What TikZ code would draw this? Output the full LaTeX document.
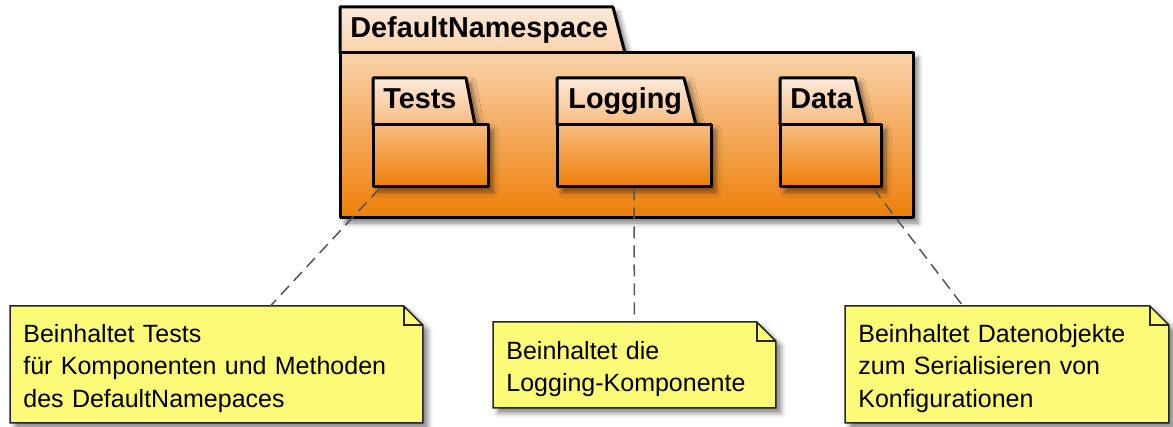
\documentclass[tikz,border=0pt]{standalone}
\usepackage{fontspec}
\setmainfont{Liberation Sans}
\usetikzlibrary{backgrounds,fit,shadows.blur}

\definecolor{pkglight}{RGB}{252,234,218}
\definecolor{pkgdark}{RGB}{238,126,6}
\definecolor{noteyellow}{RGB}{251,251,119}
\definecolor{linkgray}{RGB}{85,85,85}

\tikzset{
  pkgshadow/.style={blur shadow={shadow xshift=2.5pt, shadow yshift=-2.5pt, shadow blur radius=2.5pt, shadow opacity=50}},
  pkgtab/.style={draw, line width=1.5pt, pkgshadow},
  pkgbody/.style={draw, line width=1.5pt, pkgshadow, inner sep=0pt},
  pkgname/.style={font=\bfseries\fontsize{14.4}{17}\selectfont, anchor=base west, inner sep=0pt},
  notebox/.style={anchor=north west, align=left, inner xsep=6.5pt, font=\fontsize{12.5}{16.25}\selectfont},
  noteline/.style={draw=black!85, line width=0.75pt},
  link/.style={draw=linkgray, line width=0.75pt, dash pattern=on 6pt off 3.5pt}
}

% folded note outline behind a text node
\newcommand{\notefold}[1]{%
  \begin{scope}[on background layer]
    \path[fill=noteyellow, noteline, pkgshadow] (#1.north west) -- ([xshift=-9.5pt]#1.north east) -- ([yshift=-9.5pt]#1.north east) -- (#1.south east) -- (#1.south west) -- cycle;
    \draw[noteline] ([xshift=-9.5pt]#1.north east) |- ([yshift=-9.5pt]#1.north east);
  \end{scope}}
\newcommand{\notestrut}{\rule{0pt}{13pt}}

\begin{document}
\begin{tikzpicture}[x=0.5pt, y=-0.5pt, line join=round]
    \useasboundingbox (0,0) rectangle (1173,427);

    % DefaultNamespace
    \draw[pkgtab, top color=pkglight, bottom color=pkglight!78!pkgdark] (340,7) -- (613,7) -- (625,53) -- (340,53) -- cycle;
    \node[pkgbody, top color=pkglight!78!pkgdark, bottom color=pkgdark, fit={(340,53) (913,218)}] (nsbody) {};
    \node[pkgname] (nsname) at (350,38) {DefaultNamespace};

    % Tests
    \draw[pkgtab, top color=pkglight, bottom color=pkglight!57!pkgdark] (373,78) -- (466,78) -- (475,125) -- (373,125) -- cycle;
    \node[pkgbody, top color=pkglight!57!pkgdark, bottom color=pkgdark, fit={(373,125) (488,187)}] (testsbody) {};
    \node[pkgname] (testsname) at (383,109) {Tests};

    % Logging
    \draw[pkgtab, top color=pkglight, bottom color=pkglight!57!pkgdark] (557,78) -- (684,78) -- (696,125) -- (557,125) -- cycle;
    \node[pkgbody, top color=pkglight!57!pkgdark, bottom color=pkgdark, fit={(557,125) (711,187)}] (loggingbody) {};
    \node[pkgname] (loggingname) at (568,109) {Logging};

    % Data
    \draw[pkgtab, top color=pkglight, bottom color=pkglight!57!pkgdark] (780,78) -- (855,78) -- (866,125) -- (780,125) -- cycle;
    \node[pkgbody, top color=pkglight!57!pkgdark, bottom color=pkgdark, fit={(780,125) (881,187)}] (databody) {};
    \node[pkgname] (dataname) at (790,109) {Data};

    % notes
    \node[notebox, text width=193pt, minimum height=58pt] (testsnote) at (10,306)
        {\notestrut Beinhaltet Tests\\für Komponenten und Methoden\\des DefaultNamepaces};
    \notefold{testsnote}
    \node[notebox, text width=128pt, minimum height=42.5pt] (loggingnote) at (493,322)
        {\notestrut Beinhaltet die\\Logging-Komponente};
    \notefold{loggingnote}
    \node[notebox, text width=148.5pt, minimum height=58pt] (datanote) at (845,306)
        {\notestrut Beinhaltet Datenobjekte\\zum Serialisieren von\\Konfigurationen};
    \notefold{datanote}

    \draw[link] ([xshift=4pt]testsbody.south west) -- ([xshift=27pt]testsnote.north);
    \draw[link] (loggingbody.south) -- (loggingnote.north);
    \draw[link] ([xshift=-4.5pt]databody.south east) -- ([xshift=-22pt]datanote.north);
\end{tikzpicture}
\end{document}
